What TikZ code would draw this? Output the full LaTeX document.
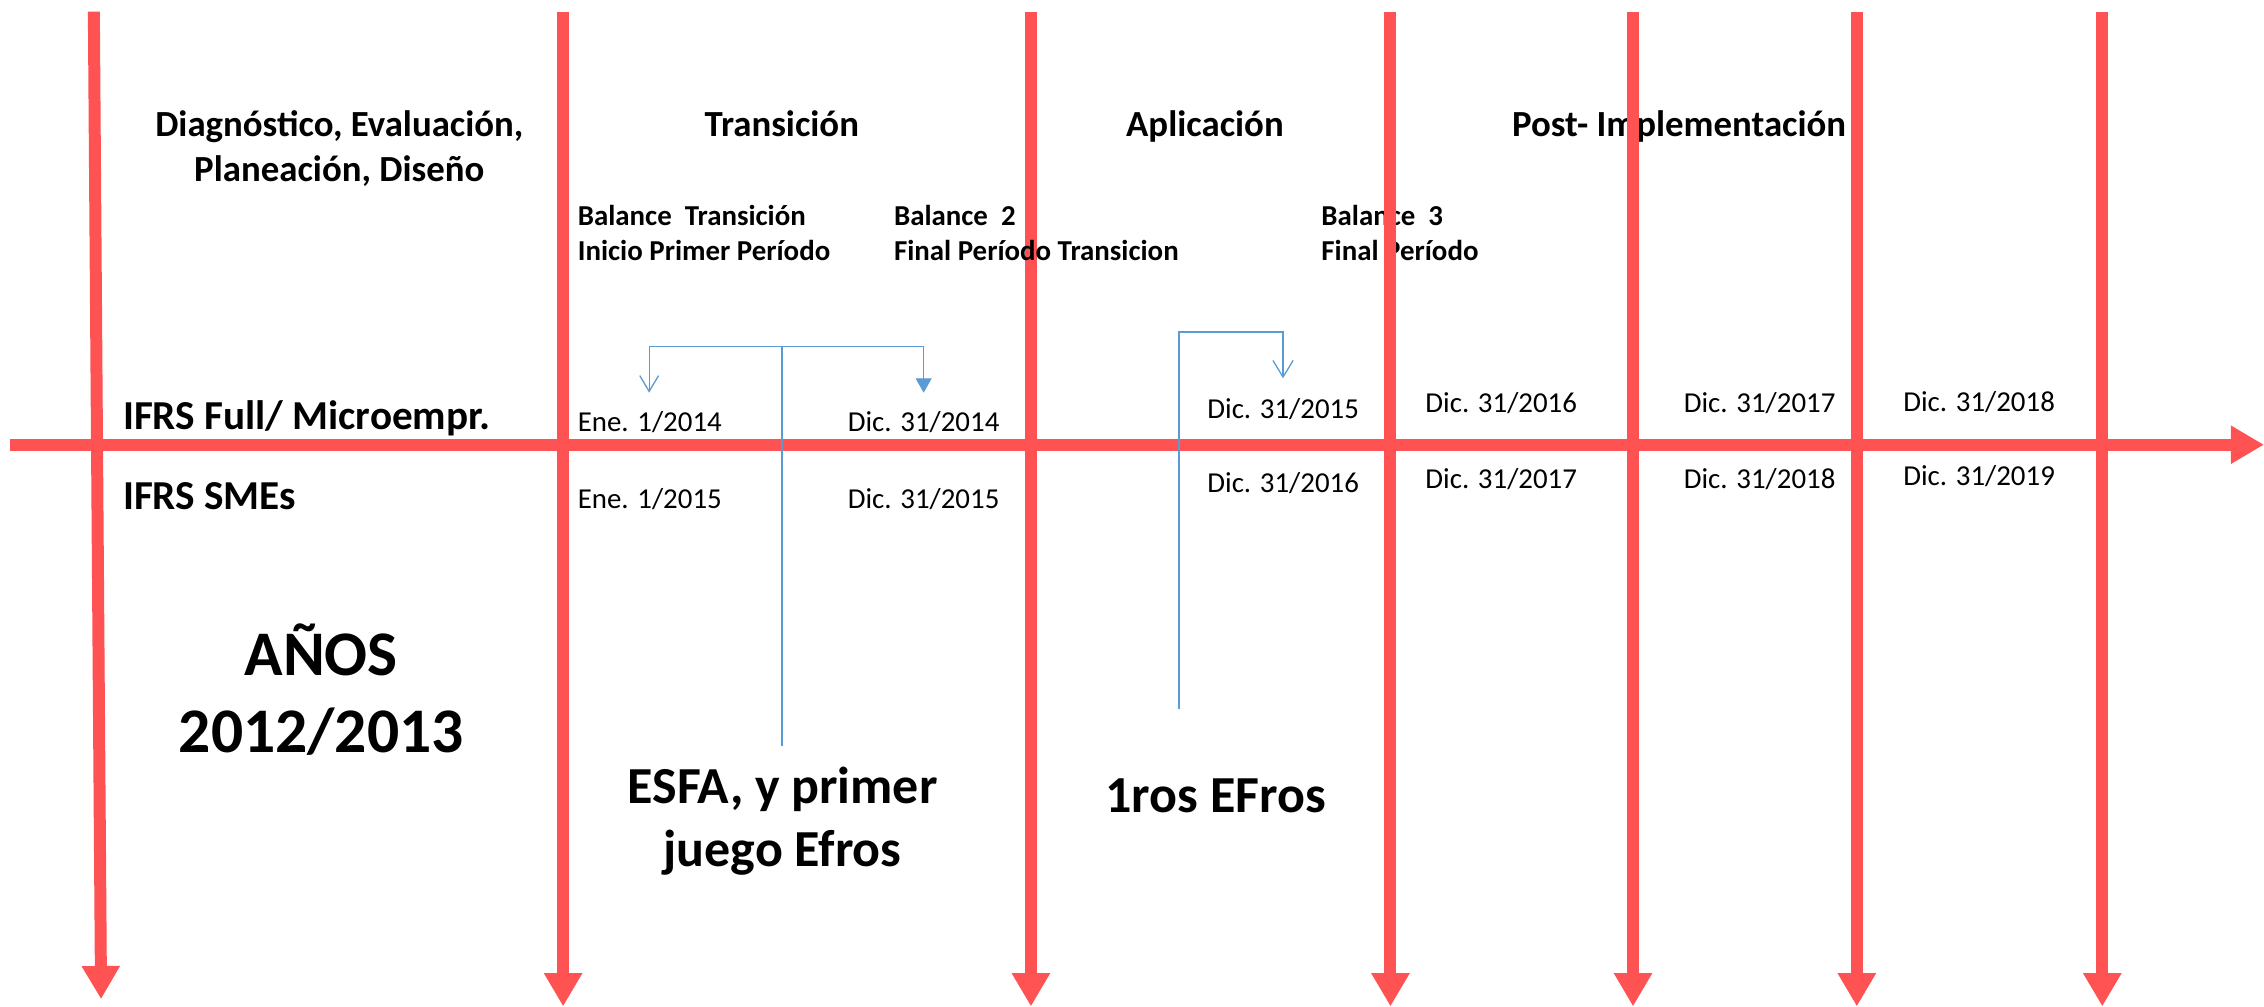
\documentclass[tikz,border=0pt]{standalone}
\usepackage{fontspec}
\setmainfont{Carlito}
\usetikzlibrary{arrows.meta}
\definecolor{tlred}{RGB}{255,82,82}
\definecolor{tlblue}{RGB}{91,155,213}
\tikzset{
 redline/.style={draw=tlred, line width=8.3pt, -{Triangle[width=25pt,length=23pt]}},
 blueline/.style={draw=tlblue, line width=0.9pt},
 phase/.style={font=\bfseries\fontsize{25.5}{31.2}\selectfont, inner sep=0pt, align=center, anchor=base},
 bal/.style={font=\bfseries\fontsize{20}{24.5}\selectfont, inner sep=0pt, align=left, anchor=base west},
 datelab/.style={font=\fontsize{20}{24}\selectfont, inner sep=0pt, anchor=base west},
 rowlab/.style={font=\bfseries\fontsize{28.5}{34}\selectfont, inner sep=0pt, anchor=base west},
 bigyears/.style={font=\bfseries\fontsize{44}{53}\selectfont, inner sep=0pt, align=center, anchor=base},
 notelab/.style={font=\bfseries\fontsize{36}{43.6}\selectfont, inner sep=0pt, align=center, anchor=base},
}
\begin{document}
\begin{tikzpicture}[x=1pt,y=-1pt]
\useasboundingbox[fill=white] (0,0) rectangle (1568,697);

% texts that lie under the red lines (anchor = baseline of last line)
\node[phase, anchor=base west] (post) at (1047,94.6) {Post- Implementación};
\node[bal] (bal3) at (915,180.5) {Balance\ \ 3\\Final Período};

% red axes
\coordinate (h0) at (7,308);
\coordinate (h1) at (1568,308);
\draw[redline] (h0) -- (h1);
\coordinate (v1a) at (65,8);   \coordinate (v1b) at (70,692);
\draw[redline] (v1a) -- (v1b);
\foreach \i/\x in {2/390,3/714,4/963,5/1131,6/1286,7/1456}{
  \coordinate (v\i a) at (\x,8);
  \coordinate (v\i b) at (\x,697);
  \draw[redline] (v\i a) -- (v\i b);
}

% phase headings
\node[phase] (diag) at (235,125.8) {Diagnóstico, Evaluación,\\Planeación, Diseño};
\node[phase] (trans) at (541.5,94.6) {Transición};
\node[phase] (apli) at (834.5,94.6) {Aplicación};

% balance labels
\node[bal] (bal1) at (400,180.5) {Balance\ \ Transición\\Inicio Primer Período};
\node[bal] (bal2) at (619,180.5) {Balance\ \ 2\\Final Período Transicion};

% row labels
\node[rowlab] (full) at (85,297.8) {IFRS Full/ Microempr.};
\node[rowlab] (smes) at (85,352.6) {IFRS SMEs};

% dates
\node[datelab] (d1) at (400,299) {Ene. 1/2014};
\node[datelab] (d2) at (587,299) {Dic. 31/2014};
\node[datelab] (d3) at (400,352) {Ene. 1/2015};
\node[datelab] (d4) at (587,352) {Dic. 31/2015};
\node[datelab] (d5) at (836,289.5) {Dic. 31/2015};
\node[datelab] (d6) at (836,341) {Dic. 31/2016};
\node[datelab] (d7) at (987,286) {Dic. 31/2016};
\node[datelab] (d8) at (987,338.6) {Dic. 31/2017};
\node[datelab] (d9) at (1166,286) {Dic. 31/2017};
\node[datelab] (d10) at (1166,338.6) {Dic. 31/2018};
\node[datelab] (d11) at (1318,285) {Dic. 31/2018};
\node[datelab] (d12) at (1318,336) {Dic. 31/2019};

% big labels
\node[bigyears] (anos) at (222.5,521) {AÑOS\\2012/2013};
\node[notelab] (esfa) at (542,600) {ESFA, y primer\\juego Efros};
\node[notelab] (efros) at (842,562.8) {1ros EFros};

% blue connectors
\coordinate (s1) at (541.5,516.5);
\coordinate (s1t) at (541.5,240);
\coordinate (s1l) at (449.6,240);
\coordinate (s1lt) at (449.6,272);
\coordinate (s1r) at (639.7,240);
\coordinate (s1rt) at (639.7,272);
\draw[blueline] (s1) -- (s1t);
\draw[blueline, -{Straight Barb[width=13pt,length=11pt]}] (s1t) -- (s1l) -- (s1lt);
\draw[blueline, -{Triangle[width=11pt,length=10pt]}] (s1t) -- (s1r) -- (s1rt);

\coordinate (s2) at (816.6,491);
\coordinate (s2t) at (816.6,230);
\coordinate (s2r) at (888.6,230);
\coordinate (s2rt) at (888.6,262);
\draw[blueline, -{Straight Barb[width=14pt,length=11.5pt]}] (s2) -- (s2t) -- (s2r) -- (s2rt);
\end{tikzpicture}
\end{document}
